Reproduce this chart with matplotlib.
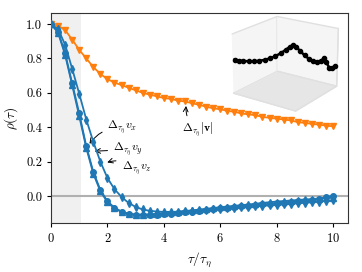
import numpy as np
import matplotlib
matplotlib.use('Agg')
import matplotlib.pyplot as plt

plt.rcParams['font.family'] = 'cmr10'
plt.rcParams['mathtext.fontset'] = 'cm'
plt.rcParams['axes.formatter.use_mathtext'] = True

# lag times (tau / tau_eta)
tau = np.arange(0, 10.01, 0.25)

# autocorrelation of increments
rho_vx = [1.000, 0.955, 0.830, 0.655, 0.480, 0.290, 0.140, 0.035, -0.030, -0.068,
          -0.090, -0.103, -0.108, -0.110, -0.110, -0.108, -0.105, -0.102, -0.098, -0.094,
          -0.090, -0.086, -0.081, -0.077, -0.072, -0.068, -0.064, -0.060, -0.056, -0.052,
          -0.049, -0.045, -0.042, -0.038, -0.034, -0.030, -0.026, -0.021, -0.015, -0.008,
          0.002]
rho_vy = [1.000, 0.950, 0.820, 0.645, 0.465, 0.280, 0.130, 0.028, -0.035, -0.072,
          -0.093, -0.104, -0.108, -0.108, -0.106, -0.103, -0.099, -0.095, -0.091, -0.087,
          -0.083, -0.079, -0.074, -0.070, -0.065, -0.061, -0.057, -0.053, -0.049, -0.045,
          -0.040, -0.036, -0.032, -0.029, -0.026, -0.023, -0.020, -0.018, -0.015, -0.012,
          -0.010]
rho_vz = [1.000, 0.970, 0.880, 0.740, 0.595, 0.445, 0.315, 0.200, 0.105, 0.040,
          -0.005, -0.040, -0.063, -0.078, -0.086, -0.090, -0.092, -0.092, -0.091, -0.089,
          -0.087, -0.084, -0.081, -0.078, -0.075, -0.072, -0.069, -0.066, -0.063, -0.060,
          -0.057, -0.054, -0.051, -0.048, -0.045, -0.042, -0.039, -0.036, -0.032, -0.028,
          -0.024]
rho_vabs = [1.00, 0.99, 0.965, 0.91, 0.85, 0.80, 0.75, 0.71, 0.68, 0.66,
            0.645, 0.63, 0.615, 0.60, 0.59, 0.58, 0.57, 0.565, 0.555, 0.55,
            0.54, 0.53, 0.52, 0.51, 0.505, 0.495, 0.49, 0.48, 0.475, 0.47,
            0.46, 0.455, 0.45, 0.445, 0.44, 0.43, 0.425, 0.42, 0.415, 0.41,
            0.405]

# inset trajectory (arbitrary units)
traj_x = [0.02, 0.06, 0.1, 0.15, 0.2, 0.25, 0.3, 0.35, 0.4, 0.45, 0.5, 0.54,
          0.57, 0.6, 0.64, 0.68, 0.72, 0.76, 0.8, 0.84, 0.87, 0.89, 0.92, 0.95, 0.98]
traj_y = [0.02, 0.06, 0.1, 0.15, 0.2, 0.25, 0.3, 0.35, 0.4, 0.45, 0.5, 0.54,
          0.57, 0.6, 0.64, 0.68, 0.72, 0.76, 0.8, 0.84, 0.87, 0.89, 0.92, 0.95, 0.98]
traj_z = [0.15, 0.11, 0.085, 0.065, 0.055, 0.06, 0.08, 0.12, 0.18, 0.27, 0.38, 0.48,
          0.52, 0.45, 0.30, 0.15, 0.03, -0.05, -0.10, -0.06, 0.02, -0.12, -0.32, -0.36, -0.28]

blue = '#1f77b4'
orange = '#ff7f0e'

fig = plt.figure(figsize=(3.62, 2.72), dpi=100)
ax = fig.add_axes([0.141, 0.18, 0.82, 0.772])

ax.axvspan(0, 1.05, color='#f0f0f0', zorder=0, lw=0)
ax.axhline(0, color='#b0b0b0', lw=1.5, zorder=1)

ax.plot(tau, rho_vabs, '-v', color=orange, ms=5, lw=1.3, zorder=3)
ax.plot(tau, rho_vx, '-o', color=blue, ms=4, lw=1.3, zorder=4)
ax.plot(tau, rho_vy, '-^', color=blue, ms=4, lw=1.3, zorder=4)
ax.plot(tau, rho_vz, '-d', color=blue, ms=4, lw=1.3, zorder=4)

arr = dict(arrowstyle='->', color='k', lw=0.7, connectionstyle='arc3,rad=0.3')
ax.annotate(r'$\Delta_{\tau_\eta} v_x$', xy=(1.31, 0.29), xytext=(2.0, 0.395),
            fontsize=8.5, va='center', arrowprops=arr)
ax.annotate(r'$\Delta_{\tau_\eta} v_y$', xy=(1.45, 0.26), xytext=(2.2, 0.27),
            fontsize=8.5, va='center',
            arrowprops=dict(arrowstyle='->', color='k', lw=0.7))
ax.annotate(r'$\Delta_{\tau_\eta} v_z$', xy=(1.9, 0.19), xytext=(2.5, 0.16),
            fontsize=8.5, va='center',
            arrowprops=dict(arrowstyle='->', color='k', lw=0.7,
                            connectionstyle='arc3,rad=0.3'))
ax.annotate(r'$\Delta_{\tau_\eta} |\mathbf{v}|$', xy=(4.8, 0.54), xytext=(4.65, 0.38),
            fontsize=8.5, va='center',
            arrowprops=dict(arrowstyle='->', color='k', lw=0.7,
                            connectionstyle='arc3,rad=-0.3'))

ax.set_xlim(0, 10.53)
ax.set_ylim(-0.157, 1.064)
ax.set_xticks([0, 2, 4, 6, 8, 10])
ax.set_yticks([0.0, 0.2, 0.4, 0.6, 0.8, 1.0])
ax.set_yticklabels(['0.0', '0.2', '0.4', '0.6', '0.8', '1.0'])
ax.tick_params(labelsize=9, length=3, width=0.8)
ax.set_xlabel(r'$\tau/\tau_\eta$', fontsize=9.5)
ax.set_ylabel(r'$\rho(\tau)$', fontsize=9.5)
for sp in ax.spines.values():
    sp.set_color('#333333')
    sp.set_linewidth(0.8)

# inset
ins = fig.add_axes([0.56, 0.55, 0.45, 0.44], projection='3d')
ins.patch.set_alpha(0)
ins.plot(traj_x, traj_y, traj_z, '-o', color='k', ms=3, lw=1.8)
ins.set_xlim(0, 1)
ins.set_ylim(0, 1)
ins.set_zlim(-1.0, 1.0)
ins.set_box_aspect((4, 4, 3.3))
ins.view_init(elev=20, azim=-55)
ins.set_xticks([])
ins.set_yticks([])
ins.set_zticks([])
ins.grid(False)
ins.xaxis.set_pane_color((0.96, 0.96, 0.96, 1.0))
ins.yaxis.set_pane_color((0.96, 0.96, 0.96, 1.0))
ins.zaxis.set_pane_color((0.90, 0.90, 0.90, 1.0))
for a in (ins.xaxis, ins.yaxis, ins.zaxis):
    a.line.set_color('#e0e0e0')
    a.pane.set_edgecolor('#e0e0e0')

fig.savefig('out.png', dpi=100)
